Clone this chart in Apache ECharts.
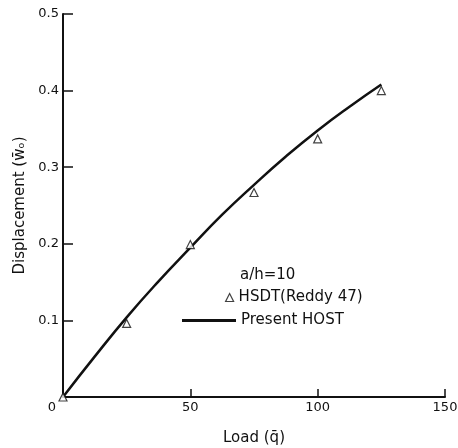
<!DOCTYPE html>
<html><head><meta charset="utf-8">
<script src="https://cdn.jsdelivr.net/npm/echarts@6/dist/echarts.min.js"></script>
<style>html,body{margin:0;padding:0;background:#fff}#c{width:458px;height:448px}</style>
</head><body><div id="c"></div>
<script>
var hsdtLoad = [0, 25, 50, 75, 100, 125];
var hsdtDisp = [0, 0.096, 0.199, 0.267, 0.337, 0.400];
var hostLoad = [0, 12.5, 25, 37.5, 50, 62.5, 75, 87.5, 100, 112.5, 125];
var hostDisp = [0, 0.053, 0.104, 0.151, 0.195, 0.238, 0.277, 0.314, 0.348, 0.379, 0.408];
var xTicks = [0, 50, 100, 150];
var yTicks = ['0', '0.1', '0.2', '0.3', '0.4', '0.5'];

var F = 'DejaVu Sans';
var chart = echarts.init(document.getElementById('c'));
chart.setOption({
  animation: false,
  backgroundColor: '#fff',
  grid: {left: 63, right: 13, top: 14, bottom: 51, containLabel: false, outerBoundsMode: 'none'},
  title: {text: 'a/h=10', left: 240, top: 268, textStyle: {fontFamily: F, fontSize: 15, fontWeight: 'normal', color: '#111'}, padding: 0},
  legend: [
    {data: [{name: 'HSDT(Reddy 47)', icon: 'triangle', itemStyle: {color: '#fff', borderColor: '#111', borderWidth: 1.2}}],
     left: 225, top: 290, itemWidth: 8, itemHeight: 8, itemGap: 0, padding: 0,
     textStyle: {fontFamily: F, fontSize: 15, color: '#111'}},
    {data: [{name: 'Present HOST', icon: 'rect', itemStyle: {color: '#111'}}], left: 182, top: 313, itemWidth: 54, itemHeight: 3, padding: 0,
     textStyle: {fontFamily: F, fontSize: 15, color: '#111'}}
  ],
  xAxis: {
    type: 'value', min: 0, max: 150, interval: 50,
    name: 'Load (q\u0304)', nameLocation: 'middle', nameGap: 34,
    nameTextStyle: {fontFamily: F, fontSize: 15, color: '#111'},
    axisLine: {lineStyle: {color: '#111', width: 2}},
    axisTick: {inside: true, length: 8, lineStyle: {color: '#111', width: 1.5}},
    splitLine: {show: false},
    axisLabel: {fontFamily: F, fontSize: 13, color: '#111', margin: 4,
      formatter: function (v) { var i = xTicks.indexOf(v); return i === 0 ? '{z|0}' : String(xTicks[i]); },
      rich: {z: {fontFamily: F, fontSize: 13, color: '#111', padding: [0, 22, 0, 0]}}}
  },
  yAxis: {
    type: 'value', min: 0, max: 0.5, interval: 0.1,
    name: 'Displacement (w\u0304\u2092)', nameLocation: 'middle', nameGap: 33, nameRotate: 90,
    nameTextStyle: {fontFamily: F, fontSize: 15, color: '#111'},
    axisLine: {lineStyle: {color: '#111', width: 2}},
    axisTick: {inside: true, length: 10, lineStyle: {color: '#111', width: 1.5}},
    splitLine: {show: false},
    axisLabel: {fontFamily: F, fontSize: 13, color: '#111', margin: 4,
      formatter: function (v) { var i = Math.round(v * 10); return i === 0 ? '' : yTicks[i]; }}
  },
  series: [
    {name: 'Present HOST', type: 'line', smooth: true, symbol: 'none',
     data: hostLoad.map(function (x, i) { return [x, hostDisp[i]]; }),
     lineStyle: {color: '#111', width: 2.5}, itemStyle: {color: '#111'}, z: 2},
    {name: 'HSDT(Reddy 47)', type: 'scatter', symbol: 'triangle', symbolSize: 8,
     data: hsdtLoad.map(function (x, i) { return [x, hsdtDisp[i]]; }),
     itemStyle: {color: '#fff', borderColor: '#111', borderWidth: 1.2}, z: 3}
  ]
});
</script></body></html>
